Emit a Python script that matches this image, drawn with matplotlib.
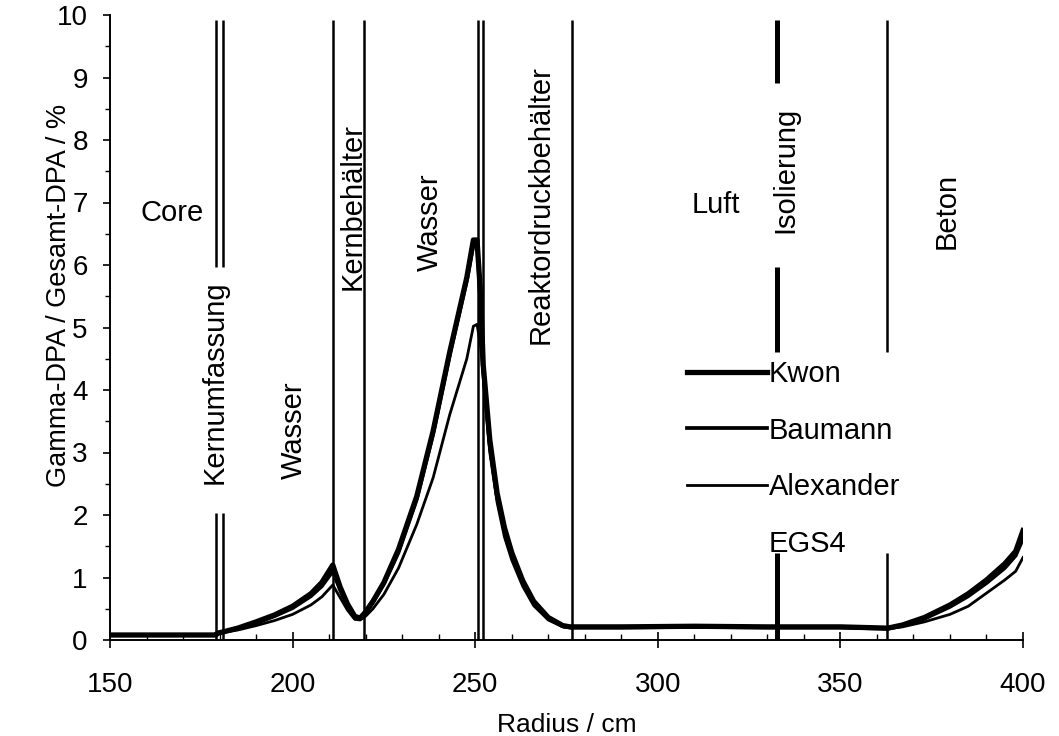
import matplotlib
matplotlib.use('Agg')
import matplotlib.pyplot as plt
from matplotlib.lines import Line2D

plt.rcParams['font.family'] = ['Liberation Sans', 'DejaVu Sans']

# Radius-Stuetzstellen (cm)
radius = [150, 179, 179.5, 181, 185, 190, 195, 200, 205, 208, 211, 213, 215, 217,
          218.5, 220, 222, 225, 229, 234, 238.5, 243, 247.7, 249.5, 250.5, 251.5,
          252.2, 254, 256, 258, 260, 263, 266, 270, 274, 276, 290, 310, 330, 350,
          363, 367, 373, 380, 385, 390, 395, 398, 400]

kwon = [0.08, 0.08, 0.11, 0.13, 0.19, 0.29, 0.40, 0.54, 0.74, 0.92, 1.20, 0.85, 0.58, 0.38,
        0.35, 0.45, 0.62, 0.92, 1.45, 2.30, 3.35, 4.60, 5.80, 6.40, 6.40, 5.50,
        4.40, 3.20, 2.35, 1.80, 1.40, 0.95, 0.62, 0.36, 0.23, 0.21, 0.21, 0.22, 0.21, 0.21,
        0.19, 0.24, 0.36, 0.56, 0.74, 0.96, 1.22, 1.42, 1.75]

baumann = [0.08, 0.08, 0.11, 0.13, 0.18, 0.27, 0.38, 0.51, 0.70, 0.86, 1.10, 0.80, 0.55, 0.37,
           0.35, 0.44, 0.60, 0.90, 1.40, 2.25, 3.30, 4.55, 5.75, 6.32, 6.32, 5.40,
           4.35, 3.10, 2.28, 1.75, 1.35, 0.92, 0.60, 0.35, 0.22, 0.20, 0.20, 0.21, 0.20, 0.20,
           0.18, 0.23, 0.34, 0.53, 0.70, 0.91, 1.15, 1.35, 1.62]

alexander = [0.07, 0.07, 0.10, 0.12, 0.16, 0.23, 0.31, 0.41, 0.56, 0.69, 0.88, 0.68, 0.48, 0.33,
             0.32, 0.38, 0.50, 0.73, 1.15, 1.85, 2.60, 3.60, 4.50, 5.02, 5.05, 4.70,
             4.20, 3.00, 2.20, 1.65, 1.28, 0.86, 0.55, 0.32, 0.21, 0.20, 0.20, 0.20, 0.20, 0.20,
             0.18, 0.21, 0.29, 0.41, 0.54, 0.75, 0.96, 1.10, 1.32]

# Materialgrenzen: (Radius, von, bis)
grenzen = [(179, 0, 2.03), (179, 5.97, 9.92),
           (181, 0, 2.03), (181, 5.97, 9.92),
           (211, 0, 9.92), (219.5, 0, 9.92),
           (250.7, 0, 9.92), (252, 0, 9.92),
           (276.6, 0, 9.92),
           (362.7, 0, 1.39), (362.7, 4.61, 9.92)]
isolierung = [(332.6, 0, 1.39), (332.6, 4.61, 5.97), (332.6, 8.91, 9.92)]

# Beschriftungen der Bereiche: (Text, Radius, Hoehe, Drehung)
bereiche = [("Core", 167, 6.83, 0),
            ("Kernumfassung", 178.6, 4.13, 90),
            ("Wasser", 200.4, 3.36, 90),
            ("Kernbehälter", 216.3, 6.93, 90),
            ("Wasser", 237.6, 6.69, 90),
            ("Reaktordruckbehälter", 268.0, 6.96, 90),
            ("Luft", 316.0, 6.96, 0),
            ("Isolierung", 335.0, 7.52, 90),
            ("Beton", 379.2, 6.86, 90)]

fig = plt.figure(figsize=(10.59, 7.36), dpi=100)
ax = fig.add_axes([110/1059, 1 - 640/736, 913/1059, 625/736])

# Kurven
ax.plot(radius, kwon, color='black', linewidth=3.8, label='Kwon')
ax.plot(radius, baumann, color='black', linewidth=2.7, label='Baumann')
ax.plot(radius, alexander, color='black', linewidth=2.0, label='Alexander')

# Grenzlinien
for (r, y0, y1) in grenzen:
    ax.vlines(r, y0, y1, color='black', linewidth=1.8)
for (r, y0, y1) in isolierung:
    ax.vlines(r, y0, y1, color='black', linewidth=3.6)

for (txt, r, h, rot) in bereiche:
    ax.text(r, h, txt, rotation=rot, ha='center', va='center', fontsize=21)

# Legende
handles = [Line2D([], [], color='black', linewidth=3.8),
           Line2D([], [], color='black', linewidth=2.7),
           Line2D([], [], color='black', linewidth=2.0),
           Line2D([], [], color='none', linewidth=0)]
ax.legend(handles, ['Kwon', 'Baumann', 'Alexander', 'EGS4'], loc='upper left',
          bbox_to_anchor=(0.632, 0.448), frameon=False, fontsize=21,
          handlelength=2.75, handletextpad=0.05, labelspacing=0.98,
          borderpad=0, borderaxespad=0)

# Achsen
ax.set_xlim(150, 400)
ax.set_ylim(0, 10)
ax.set_xticks([150, 200, 250, 300, 350, 400])
ax.set_xticks(range(150, 401, 10), minor=True)
ax.set_yticks(range(0, 11))
ax.set_yticks([i + 0.5 for i in range(10)], minor=True)

ax.spines['top'].set_visible(False)
ax.spines['right'].set_visible(False)
ax.spines['left'].set_linewidth(1.4)
ax.spines['bottom'].set_linewidth(1.4)

ax.tick_params(axis='x', which='major', direction='inout', length=12, width=1.2,
               labelsize=20, pad=17)
ax.tick_params(axis='x', which='minor', direction='in', length=4.5, width=1.0)
ax.tick_params(axis='y', which='major', direction='out', length=5, width=1.2,
               labelsize=20, pad=11)
ax.tick_params(axis='y', which='minor', direction='out', length=3.5, width=1.0)

ax.set_xlabel('Radius / cm', fontsize=19, labelpad=11)
ax.set_ylabel('Gamma-DPA / Gesamt-DPA / %', fontsize=19.5)
ax.yaxis.set_label_coords(-0.042, 0.552)

ax.set_facecolor('white')
fig.savefig('out.png', dpi=100)
